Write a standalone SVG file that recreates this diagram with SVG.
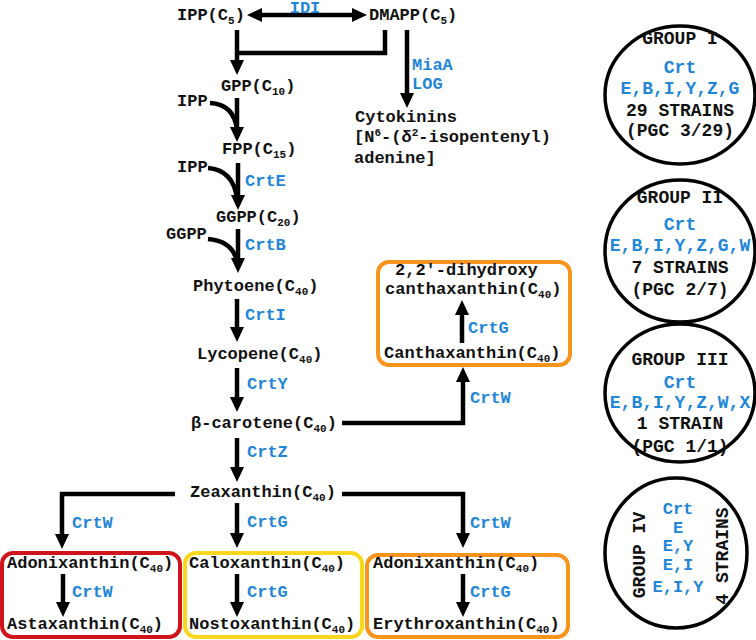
<svg xmlns="http://www.w3.org/2000/svg" width="756" height="640" viewBox="0 0 756 640">
<style>
.t{font-family:"Liberation Mono","Courier New",monospace;font-weight:bold;font-size:17px;fill:#111}
.b{fill:#1f86d8}
.c{font-size:18px;text-anchor:middle}
.d{font-size:17px}
.s{font-size:11px}
.ln{stroke:#000;stroke-width:4.5;fill:none}
.a{marker-end:url(#ah)}
.box{fill:none;stroke-width:4}
.cir{fill:none;stroke:#000;stroke-width:3.5}
</style>
<defs>
<marker id="ah" viewBox="0 0 15 14" refX="5" refY="7" markerWidth="15" markerHeight="14" markerUnits="userSpaceOnUse" orient="auto-start-reverse"><path d="M0,0 L15,7 L0,14 z" fill="#000"/></marker>
</defs>
<rect width="756" height="640" fill="#fff"/>
<g id="connectors">
<path class="ln a" d="M257,15 H357" marker-start="url(#ah)"/>
<path class="ln a" d="M237,30 V65"/>
<path class="ln" d="M385,30 V53 H237"/>
<path class="ln a" d="M407,30 V98"/>
<path class="ln a" d="M237,98 V132"/>
<path class="ln" d="M210,103 Q234,104 237,130"/>
<path class="ln a" d="M238,163 V200"/>
<path class="ln" d="M208,168 Q233,170 237,198"/>
<path class="ln a" d="M238,229 V263"/>
<path class="ln" d="M208,239 Q233,241 237,262"/>
<path class="ln a" d="M237,299 V332"/>
<path class="ln a" d="M237,368 V402"/>
<path class="ln a" d="M342,423 H463 V377"/>
<path class="ln a" d="M237,438 V472"/>
<path class="ln a" d="M175,494 H62 V539"/>
<path class="ln a" d="M237,503 V538"/>
<path class="ln a" d="M342,494 H463 V538"/>
<path class="ln a" d="M63,574 V607"/>
<path class="ln a" d="M237,574 V607"/>
<path class="ln a" d="M463,574 V607"/>
<path class="ln a" d="M462,343 V310"/>
</g>
<g id="ipp"><text class="t" x="177" y="20">IPP(C<tspan class="s" dy="4">5</tspan><tspan dy="-4">)</tspan></text></g>
<g id="dmapp"><text class="t" x="369" y="20">DMAPP(C<tspan class="s" dy="4">5</tspan><tspan dy="-4">)</tspan></text></g>
<g id="idi"><text class="t b" x="305" y="12.5" text-anchor="middle" font-size="15">IDI</text></g>
<g id="gpp"><text class="t" x="221" y="91">GPP(C<tspan class="s" dy="4">10</tspan><tspan dy="-4">)</tspan></text></g>
<g id="ipp2"><text class="t" x="177" y="106">IPP</text></g>
<g id="fpp"><text class="t" x="222" y="154">FPP(C<tspan class="s" dy="4">15</tspan><tspan dy="-4">)</tspan></text></g>
<g id="ipp3"><text class="t" x="177" y="172">IPP</text></g>
<g id="crte"><text class="t b" x="245" y="186">CrtE</text></g>
<g id="ggpp"><text class="t" x="216" y="222">GGPP(C<tspan class="s" dy="4">20</tspan><tspan dy="-4">)</tspan></text></g>
<g id="ggpp2"><text class="t" x="166" y="239">GGPP</text></g>
<g id="crtb"><text class="t b" x="245" y="250">CrtB</text></g>
<g id="phytoene"><text class="t" x="193" y="291">Phytoene(C<tspan class="s" dy="4">40</tspan><tspan dy="-4">)</tspan></text></g>
<g id="crti"><text class="t b" x="245" y="320">CrtI</text></g>
<g id="lycopene"><text class="t" x="197" y="359">Lycopene(C<tspan class="s" dy="4">40</tspan><tspan dy="-4">)</tspan></text></g>
<g id="crty"><text class="t b" x="247" y="389">CrtY</text></g>
<g id="bcarotene"><text class="t" x="191" y="428">β-carotene(C<tspan class="s" dy="4">40</tspan><tspan dy="-4">)</tspan></text></g>
<g id="crtw1"><text class="t b" x="470" y="403">CrtW</text></g>
<g id="crtz"><text class="t b" x="247" y="457">CrtZ</text></g>
<g id="zeaxanthin"><text class="t" x="190" y="497">Zeaxanthin(C<tspan class="s" dy="4">40</tspan><tspan dy="-4">)</tspan></text></g>
<g id="crtw2"><text class="t b" x="72" y="528">CrtW</text></g>
<g id="crtg1"><text class="t b" x="247" y="527">CrtG</text></g>
<g id="crtw3"><text class="t b" x="470" y="528">CrtW</text></g>
<g id="box-red">
<rect class="box" x="2" y="553" width="178" height="84" rx="11" stroke="#d0141b"/>
<text class="t" x="7" y="568">Adonixanthin(C<tspan class="s" dy="4">40</tspan><tspan dy="-4">)</tspan></text>
<text class="t b" x="72" y="597">CrtW</text>
<text class="t" x="7" y="629">Astaxanthin(C<tspan class="s" dy="4">40</tspan><tspan dy="-4">)</tspan></text>
</g>
<g id="box-yellow">
<rect class="box" x="185" y="553" width="177" height="84" rx="11" stroke="#f9d71c"/>
<text class="t" x="189" y="568">Caloxanthin(C<tspan class="s" dy="4">40</tspan><tspan dy="-4">)</tspan></text>
<text class="t b" x="247" y="597">CrtG</text>
<text class="t" x="189" y="629">Nostoxanthin(C<tspan class="s" dy="4">40</tspan><tspan dy="-4">)</tspan></text>
</g>
<g id="box-orange">
<rect class="box" x="367" y="555" width="201" height="82" rx="11" stroke="#f7941d"/>
<text class="t" x="373" y="568">Adonixanthin(C<tspan class="s" dy="4">40</tspan><tspan dy="-4">)</tspan></text>
<text class="t b" x="470" y="597">CrtG</text>
<text class="t" x="373" y="629">Erythroxanthin(C<tspan class="s" dy="4">40</tspan><tspan dy="-4">)</tspan></text>
</g>
<g id="box-cantha">
<rect class="box" x="378" y="262" width="192" height="103" rx="11" stroke="#f7941d"/>
<text class="t" x="395" y="275">2,2'-dihydroxy</text>
<text class="t" x="385" y="294">canthaxanthin(C<tspan class="s" dy="4">40</tspan><tspan dy="-4">)</tspan></text>
<text class="t b" x="468" y="333">CrtG</text>
<text class="t" x="384" y="358">Canthaxanthin(C<tspan class="s" dy="4">40</tspan><tspan dy="-4">)</tspan></text>
</g>
<g id="mialog"><text class="t b" x="412" y="70">MiaA</text><text class="t b" x="412" y="89">LOG</text></g>
<g id="cytokinins">
<text class="t" x="355" y="122">Cytokinins</text>
<text class="t" x="354" y="142">[N<tspan class="s" dy="-6">6</tspan><tspan dy="6">-(δ</tspan><tspan class="s" dy="-6">2</tspan><tspan dy="6">-isopentenyl)</tspan></text>
<text class="t" x="354" y="163">adenine]</text>
</g>
<g id="group1">
<ellipse class="cir" cx="680" cy="95" rx="75" ry="69"/>
<text class="t c" x="680" y="44">GROUP I</text>
<text class="t c b" x="680" y="73">Crt</text>
<text class="t c b" x="680" y="94">E,B,I,Y,Z,G</text>
<text class="t c" x="680" y="116">29 STRAINS</text>
<text class="t c" x="680" y="136">(PGC 3/29)</text>
</g>
<g id="group2">
<ellipse class="cir" cx="680" cy="251" rx="75" ry="71"/>
<text class="t c" x="680" y="203">GROUP II</text>
<text class="t c b" x="680" y="230">Crt</text>
<text class="t c b" x="680" y="251">E,B,I,Y,Z,G,W</text>
<text class="t c" x="680" y="273">7 STRAINS</text>
<text class="t c" x="680" y="295">(PGC 2/7)</text>
</g>
<g id="group3">
<ellipse class="cir" cx="680" cy="393" rx="75" ry="69"/>
<text class="t c" x="680" y="365">GROUP III</text>
<text class="t c b" x="680" y="388">Crt</text>
<text class="t c b" x="680" y="408">E,B,I,Y,Z,W,X</text>
<text class="t c" x="680" y="429">1 STRAIN</text>
<text class="t c" x="680" y="452">(PGC 1/1)</text>
</g>
<g id="group4">
<ellipse class="cir" cx="676" cy="553" rx="71" ry="75"/>
<text class="t c" transform="translate(645,555) rotate(-90)">GROUP IV</text>
<text class="t c" transform="translate(728,556) rotate(-90)">4 STRAINS</text>
<text class="t c d b" x="678" y="514">Crt</text>
<text class="t c d b" x="678" y="533">E</text>
<text class="t c d b" x="678" y="551">E,Y</text>
<text class="t c d b" x="678" y="570">E,I</text>
<text class="t c d b" x="678" y="592">E,I,Y</text>
</g>
</svg>
